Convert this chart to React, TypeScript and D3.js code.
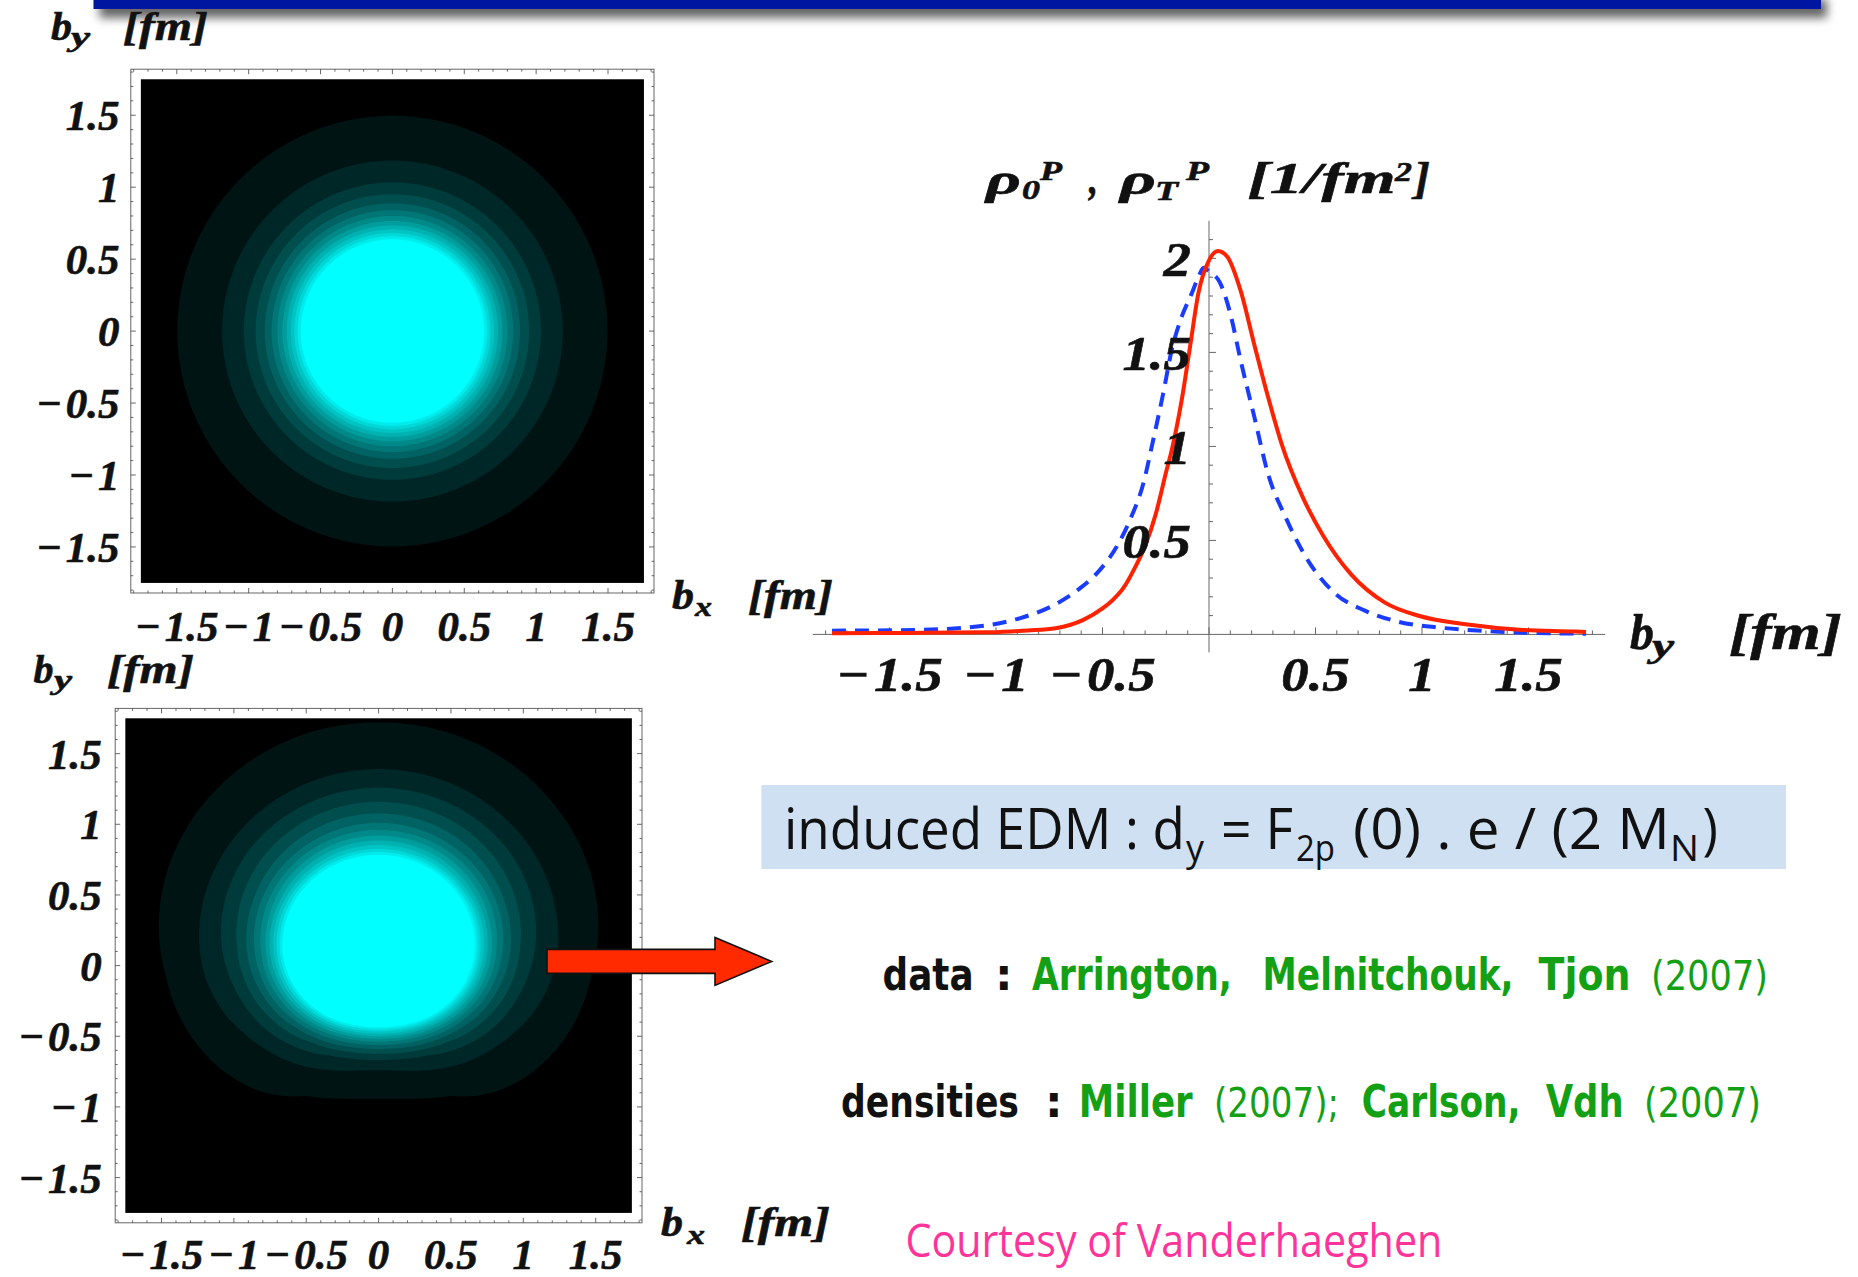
import React, { useMemo } from 'react';
import * as d3 from 'd3';

// ---------------- data ----------------
// rho_T^p along b_y (red, solid)  [b in fm, value in 1/fm^2]
const rhoTB = [-1.77, -1.4, -1.05, -0.93, -0.85, -0.72, -0.59, -0.5, -0.45, -0.4, -0.35, -0.3, -0.25, -0.2, -0.175, -0.128, -0.089, -0.05, 0.0, 0.042, 0.085, 0.148, 0.213, 0.278, 0.342, 0.44, 0.536, 0.665, 0.826, 0.988, 1.214, 1.472, 1.72, 1.77];
const rhoTV = [0.006, 0.008, 0.011, 0.016, 0.021, 0.033, 0.077, 0.138, 0.185, 0.25, 0.35, 0.47, 0.64, 0.87, 0.98, 1.247, 1.53, 1.814, 1.99, 2.04, 2.01, 1.83, 1.54, 1.26, 1.01, 0.73, 0.525, 0.322, 0.169, 0.098, 0.053, 0.024, 0.0155, 0.013];
// rho_0^p along b_y (blue, dashed)
const rho0B = [-1.77, -1.37, -1.05, -0.885, -0.723, -0.606, -0.512, -0.433, -0.371, -0.308, -0.262, -0.215, -0.175, -0.128, -0.081, -0.05, -0.025, 0.0, 0.052, 0.1, 0.148, 0.213, 0.278, 0.358, 0.471, 0.6, 0.729, 0.89, 1.084, 1.34, 1.5, 1.77];
const rho0V = [0.02, 0.024, 0.047, 0.087, 0.159, 0.245, 0.343, 0.467, 0.609, 0.804, 1.034, 1.282, 1.513, 1.69, 1.814, 1.9, 1.95, 1.93, 1.87, 1.706, 1.46, 1.156, 0.851, 0.627, 0.382, 0.21, 0.128, 0.067, 0.036, 0.016, 0.008, 0.004];

// contour levels of the density maps and the cyan shade of each band
const contourLevels = [0.0154, 0.0308, 0.0462, 0.0615, 0.0769, 0.0923, 0.1077, 0.1231, 0.1385, 0.1538, 0.1692, 0.1846, 0.2];
const contourShade = [20, 39, 59, 78, 98, 118, 137, 157, 177, 196, 216, 235, 255];

// tick values / labels
const mapTicks = [-1.5, -1, -0.5, 0, 0.5, 1, 1.5];
const mapTickLabels = ['\u2212\u200A1.5', '\u2212\u200A1', '\u2212\u200A0.5', '0', '0.5', '1', '1.5'];
const profXTicks = [-1.5, -1, -0.5, 0.5, 1, 1.5];
const profXTickLabels = ['\u2212\u200A1.5', '\u2212\u200A1', '\u2212\u200A0.5', '0.5', '1', '1.5'];
const profYTicks = [0.5, 1, 1.5, 2];
const profYTickLabels = ['0.5', '1', '1.5', '2'];

// text lines on the right
const boxParts = ['induced EDM : d', 'y', '= F', '2p', '(0) . e / (2 M', 'N', ')'];
const dataLine = ['data', ':', 'Arrington,', 'Melnitchouk,', 'Tjon', '(2007)'];
const densLine = ['densities', ':', 'Miller', '(2007);', 'Carlson,', 'Vdh', '(2007)'];
const courtesy = 'Courtesy of Vanderhaeghen';

// ---------------- helpers ----------------
const SERIF = "'Liberation Serif', 'Times New Roman', serif";
const SANS = "'Open Sans', 'Liberation Sans', sans-serif";
const ROUND = "'DejaVu Sans', 'Liberation Sans', sans-serif";
const GREEN = '#14a014';
const BLACK = '#111';

const N = 350;
const HALF = 1.75;
const STEP = (2 * HALF) / N;
const minorTicks = d3.range(-18, 19).map((i) => i / 10);
const isMajor = (t: number) => Math.abs(t * 2 - Math.round(t * 2)) < 1e-6;

type Field = (bx: number, by: number) => number;

function gridValues(field: Field) {
  const vals = new Array(N * N);
  for (let j = 0; j < N; j++) {
    const by = HALF - (j + 0.5) * STEP;
    for (let i = 0; i < N; i++) {
      const bx = -HALF + (i + 0.5) * STEP;
      vals[j * N + i] = field(bx, by);
    }
  }
  return vals;
}

function SerifText(props: any) {
  const { x, y, size, len, children, anchor } = props;
  return (
    <text x={x} y={y} fontFamily={SERIF} fontWeight="bold" fontStyle="italic" fontSize={size}
      textLength={len} lengthAdjust="spacingAndGlyphs" textAnchor={anchor || 'start'} fill={BLACK}
      stroke={BLACK} strokeWidth={0.6}>
      {children}
    </text>
  );
}

function ScaledLabel(props: any) {
  const { x, y, size, sx, anchor, children, central } = props;
  return (
    <text transform={`translate(${x},${y}) scale(${sx},1)`} fontFamily={SERIF} fontWeight="bold"
      fontStyle="italic" fontSize={size} textAnchor={anchor} dy={central ? '0.35em' : undefined} fill={BLACK}
      stroke={BLACK} strokeWidth={0.6}>
      {children}
    </text>
  );
}

function DensityMap(props: any) {
  const { id, x0, x1, y0, y1, field, yLabelRight, xLabelBase } = props;
  const xs = d3.scaleLinear().domain([-1.82, 1.82]).range([x0, x1]);
  const ys = d3.scaleLinear().domain([-1.82, 1.82]).range([y1, y0]);
  const paths = useMemo(() => {
    const vals = gridValues(field);
    const polys = d3.contours().size([N, N]).thresholds(contourLevels)(vals);
    const proj = d3.geoTransform({
      point: function (this: any, x: number, y: number) {
        this.stream.point(xs(-HALF + x * STEP), ys(HALF - y * STEP));
      },
    });
    const gp = d3.geoPath(proj as any);
    return polys.map((p) => gp(p as any) || '');
  }, [field, x0, x1, y0, y1]);

  const bx0 = xs(-HALF), bx1 = xs(HALF), by0 = ys(HALF), by1 = ys(-HALF);
  return (
    <g>
      <defs>
        <clipPath id={`clip-${id}`}>
          <rect x={bx0} y={by0} width={bx1 - bx0} height={by1 - by0} />
        </clipPath>
      </defs>
      <rect x={x0} y={y0} width={x1 - x0} height={y1 - y0} fill="#fff" stroke="#666" strokeWidth={1} />
      <rect x={bx0} y={by0} width={bx1 - bx0} height={by1 - by0} fill="#000" />
      <g clipPath={`url(#clip-${id})`}>
        {paths.map((d, k) => (
          <path key={k} d={d} fill={`rgb(0,${contourShade[k]},${contourShade[k]})`} />
        ))}
      </g>
      {minorTicks.map((t) => {
        const L = isMajor(t) ? 5 : 2.5;
        return (
          <g key={t} stroke="#444" strokeWidth={0.8}>
            <line x1={x0} x2={x0 + L} y1={ys(t)} y2={ys(t)} />
            <line x1={x1} x2={x1 - L} y1={ys(t)} y2={ys(t)} />
            <line x1={xs(t)} x2={xs(t)} y1={y1} y2={y1 - L} />
            <line x1={xs(t)} x2={xs(t)} y1={y0} y2={y0 + L} />
          </g>
        );
      })}
      {mapTicks.map((t, i) => (
        <ScaledLabel key={'y' + t} x={yLabelRight} y={ys(t)} size={43} sx={1.0} anchor="end" central>
          {mapTickLabels[i]}
        </ScaledLabel>
      ))}
      {mapTicks.map((t, i) => (
        <ScaledLabel key={'x' + t} x={xs(t)} y={xLabelBase} size={43} sx={1.0} anchor="middle">
          {mapTickLabels[i]}
        </ScaledLabel>
      ))}
    </g>
  );
}

export default function App() {
  // log-space piecewise-linear interpolation of the read profiles (used for the 2D maps)
  const logRed = d3.scaleLinear().domain(rhoTB).range(rhoTV.map(Math.log)).clamp(true);
  const logBlue = d3.scaleLinear().domain(rho0B).range(rho0V.map(Math.log)).clamp(true);
  const red = (b: number) => Math.exp(logRed(b));
  const blue = (b: number) => Math.exp(logBlue(b));

  const field0 = useMemo<Field>(() => (bx, by) => {
    const r = Math.hypot(bx, by);
    return (blue(r) + blue(-r)) / 2;
  }, []);
  const fieldT = useMemo<Field>(() => (bx, by) => {
    const r = Math.hypot(bx, by);
    if (r < 1e-9) return red(0);
    const s = by / r;
    return (red(r) * (1 + s) + red(-r) * (1 - s)) / 2;
  }, []);

  // profile plot scales
  const px = d3.scaleLinear().domain([-1.86, 1.86]).range([812.8, 1605.2]);
  const py = d3.scaleLinear().domain([0, 2.2]).range([634.4, 220.8]);
  const line = d3.line<[number, number]>().x((d) => px(d[0])).y((d) => py(d[1])).curve(d3.curveMonotoneX);
  const redPts: [number, number][] = rhoTB.map((b, i) => [b, rhoTV[i]]);
  const bluePts: [number, number][] = rho0B.map((b, i) => [b, rho0V[i]]);

  // arrow geometry
  const ax0 = 547, ax1 = 715, atip = 771.7, acy = 961.4, shaftH = 12, headH = 24;
  const arrowPts = [
    [ax0, acy - shaftH], [ax1, acy - shaftH], [ax1, acy - headH], [atip, acy],
    [ax1, acy + headH], [ax1, acy + shaftH], [ax0, acy + shaftH],
  ].map((p) => p.join(',')).join(' ');

  return (
    <svg width={1858} height={1277} viewBox="0 0 1858 1277"
      style={{ position: 'absolute', left: 0, top: 0, background: '#fff' }}>
      <defs>
        <filter id="shadow" x="-5%" y="-200%" width="110%" height="700%">
          <feDropShadow dx="6" dy="9" stdDeviation="5" floodColor="#000" floodOpacity="0.6" />
        </filter>
      </defs>
      <rect x={0} y={0} width={1858} height={1277} fill="#fff" />

      {/* title bar */}
      <rect x={93.5} y={-10} width={1727.5} height={19} fill="#0219a0" filter="url(#shadow)" />

      {/* ---------- top density map ---------- */}
      <DensityMap id="top" x0={130.8} x1={654} y0={69.2} y1={593} field={field0} yLabelRight={119.6} xLabelBase={641} />
      <SerifText x={51} y={39.5} size={41} len={21}>b</SerifText>
      <SerifText x={71} y={46} size={28} len={19}>y</SerifText>
      <SerifText x={123} y={39.5} size={41} len={85}>[fm]</SerifText>
      <SerifText x={672} y={609} size={42} len={22}>b</SerifText>
      <SerifText x={695} y={616} size={28} len={17}>x</SerifText>
      <SerifText x={748} y={609} size={42} len={85}>[fm]</SerifText>

      {/* ---------- bottom density map ---------- */}
      <DensityMap id="bot" x0={115.2} x1={642} y0={708.4} y1={1222.8} field={fieldT} yLabelRight={101.8} xLabelBase={1269} />
      <SerifText x={33.5} y={682.8} size={41} len={20}>b</SerifText>
      <SerifText x={54} y={689} size={28} len={18}>y</SerifText>
      <SerifText x={107} y={682.8} size={41} len={87}>[fm]</SerifText>
      <SerifText x={661} y={1236} size={42} len={22}>b</SerifText>
      <SerifText x={687} y={1244} size={28} len={18}>x</SerifText>
      <SerifText x={741} y={1236} size={42} len={89}>[fm]</SerifText>

      {/* ---------- profile plot ---------- */}
      <g stroke="#666" strokeWidth={1}>
        <line x1={px(-1.86)} x2={px(1.86)} y1={py(0)} y2={py(0)} />
        <line x1={px(0)} x2={px(0)} y1={py(2.2)} y2={py(0) + 18} />
        {minorTicks.map((t) => (
          <line key={'px' + t} x1={px(t)} x2={px(t)} y1={py(0)} y2={py(0) - (isMajor(t) ? 7 : 4)} />
        ))}
        {d3.range(1, 22).map((i) => i / 10).map((t) => (
          <line key={'py' + t} x1={px(0)} x2={px(0) + (isMajor(t) ? 7 : 4)} y1={py(t)} y2={py(t)} />
        ))}
      </g>
      <path d={line(bluePts) || ''} fill="none" stroke="#1a3cff" strokeWidth={4} strokeDasharray="14,9" />
      <path d={line(redPts) || ''} fill="none" stroke="#ff2200" strokeWidth={4} />
      {profYTicks.map((t, i) => (
        <ScaledLabel key={'pyl' + t} x={1191} y={py(t)} size={49} sx={1.12} anchor="end" central>
          {profYTickLabels[i]}
        </ScaledLabel>
      ))}
      {profXTicks.map((t, i) => (
        <ScaledLabel key={'pxl' + t} x={px(t)} y={691} size={49} sx={1.12} anchor="middle">
          {profXTickLabels[i]}
        </ScaledLabel>
      ))}
      {/* title */}
      <SerifText x={986} y={194} size={44} len={35}>ρ</SerifText>
      <SerifText x={1022} y={199} size={28} len={18}>0</SerifText>
      <SerifText x={1040} y={180} size={28} len={22}>P</SerifText>
      <SerifText x={1089} y={194} size={44} len={9}>,</SerifText>
      <SerifText x={1120} y={194} size={44} len={36}>ρ</SerifText>
      <SerifText x={1155} y={200} size={28} len={23}>T</SerifText>
      <SerifText x={1186} y={180} size={28} len={23}>P</SerifText>
      <SerifText x={1247.5} y={193} size={44} len={148}>[1/fm</SerifText>
      <SerifText x={1395} y={181} size={28} len={17}>2</SerifText>
      <SerifText x={1414} y={193} size={44} len={16}>]</SerifText>
      {/* x label */}
      <SerifText x={1630} y={648.6} size={50} len={24}>b</SerifText>
      <SerifText x={1652} y={657} size={34} len={22}>y</SerifText>
      <SerifText x={1729} y={648.6} size={50} len={113}>[fm]</SerifText>

      {/* ---------- EDM box ---------- */}
      <rect x={761.4} y={785} width={1024.6} height={84} fill="#cfe0f3" />
      <g fontFamily={SANS} fill={BLACK}>
        <text x={784} y={849} fontSize={56} textLength={401} lengthAdjust="spacingAndGlyphs">{boxParts[0]}</text>
        <text x={1186} y={861} fontSize={36} textLength={18} lengthAdjust="spacingAndGlyphs">{boxParts[1]}</text>
        <text x={1221} y={849} fontSize={56} textLength={72} lengthAdjust="spacingAndGlyphs">{boxParts[2]}</text>
        <text x={1296} y={861} fontSize={36} textLength={39} lengthAdjust="spacingAndGlyphs">{boxParts[3]}</text>
        <text x={1353} y={849} fontSize={56} textLength={317} lengthAdjust="spacingAndGlyphs">{boxParts[4]}</text>
        <text x={1670} y={861} fontSize={36} textLength={29} lengthAdjust="spacingAndGlyphs">{boxParts[5]}</text>
        <text x={1702.6} y={849} fontSize={56} textLength={15.4} lengthAdjust="spacingAndGlyphs">{boxParts[6]}</text>
      </g>

      {/* ---------- references ---------- */}
      <g fontFamily={ROUND} fontSize={44}>
        <text x={882.6} y={990} fontWeight="bold" fill={BLACK} textLength={91} lengthAdjust="spacingAndGlyphs">{dataLine[0]}</text>
        <text x={995} y={990} fontWeight="bold" fill={BLACK}>{dataLine[1]}</text>
        <text x={1032} y={990} fontWeight="bold" fill={GREEN} textLength={200} lengthAdjust="spacingAndGlyphs">{dataLine[2]}</text>
        <text x={1262.6} y={990} fontWeight="bold" fill={GREEN} textLength={251} lengthAdjust="spacingAndGlyphs">{dataLine[3]}</text>
        <text x={1538.6} y={990} fontWeight="bold" fill={GREEN} textLength={92} lengthAdjust="spacingAndGlyphs">{dataLine[4]}</text>
        <text x={1651} y={990} fill={GREEN} fontSize={40} textLength={117} lengthAdjust="spacingAndGlyphs">{dataLine[5]}</text>

        <text x={841} y={1116.7} fontWeight="bold" fill={BLACK} textLength={178} lengthAdjust="spacingAndGlyphs">{densLine[0]}</text>
        <text x={1045} y={1116.7} fontWeight="bold" fill={BLACK}>{densLine[1]}</text>
        <text x={1078.7} y={1116.7} fontWeight="bold" fill={GREEN} textLength={114} lengthAdjust="spacingAndGlyphs">{densLine[2]}</text>
        <text x={1214} y={1116.7} fill={GREEN} fontSize={40} textLength={125} lengthAdjust="spacingAndGlyphs">{densLine[3]}</text>
        <text x={1361.7} y={1116.7} fontWeight="bold" fill={GREEN} textLength={159} lengthAdjust="spacingAndGlyphs">{densLine[4]}</text>
        <text x={1545.7} y={1116.7} fontWeight="bold" fill={GREEN} textLength={78} lengthAdjust="spacingAndGlyphs">{densLine[5]}</text>
        <text x={1644} y={1116.7} fill={GREEN} fontSize={40} textLength={117} lengthAdjust="spacingAndGlyphs">{densLine[6]}</text>
      </g>
      <text x={905.4} y={1256.7} fontFamily={SANS} fontSize={46} fill="#ff3399" textLength={537} lengthAdjust="spacingAndGlyphs">{courtesy}</text>

      {/* ---------- arrow ---------- */}
      <polygon points={arrowPts} fill="#ff2a00" stroke="#111" strokeWidth={1.6} strokeLinejoin="miter" />
    </svg>
  );
}
